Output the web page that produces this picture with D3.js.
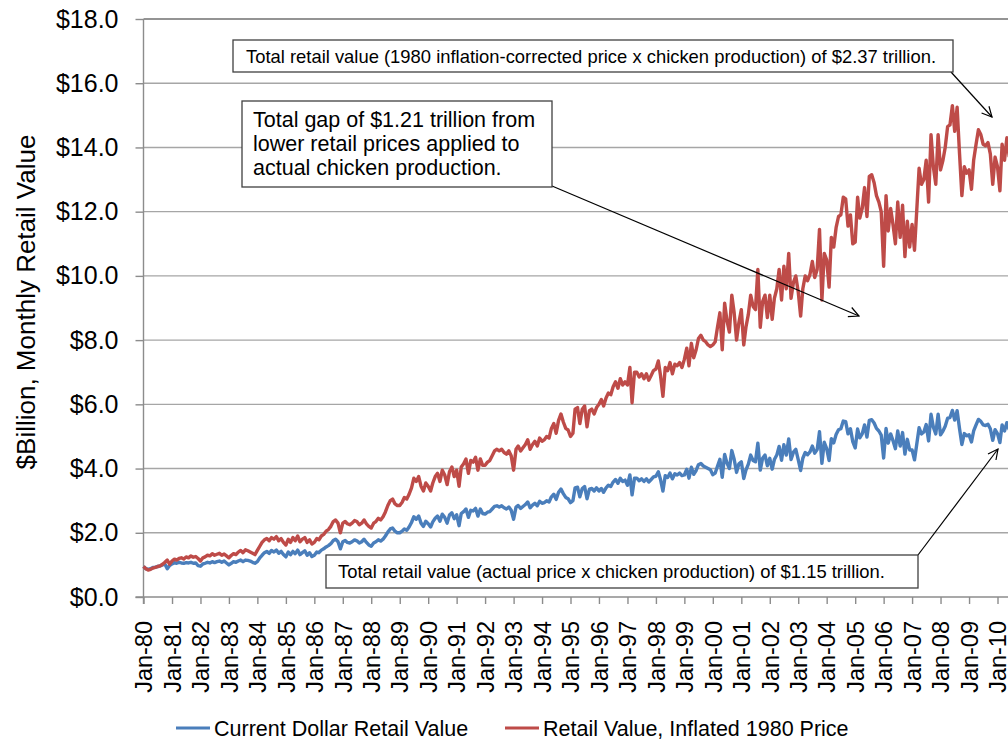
<!DOCTYPE html>
<html>
<head>
<meta charset="utf-8">
<script src="https://cdn.jsdelivr.net/npm/d3@7"></script>
<style>
  body { margin: 0; background: #fff; }
  svg { display: block; font-family: "Liberation Sans", Arial, sans-serif; }
  .grid line { stroke: #a6a6a6; stroke-width: 1.4; }
  .axis path, .axis line { stroke: #8c8c8c; stroke-width: 1.4; }
  .axis text { fill: #000; }
  .note rect { fill: #fff; stroke: #404040; stroke-width: 1.3; }
  .note text { fill: #000; }
</style>
</head>
<body>
<div id="chart"></div>
<script>
// monthly values, $ billion, Jan-1980 .. Jun-2010 (one row per year)
var startYear = 1980;

var currentDollar = [
  0.95, 0.88, 0.86, 0.88, 0.92, 0.93, 0.95, 0.97, 1.00, 1.03, 0.88, 0.98,
  1.03, 1.07, 1.05, 1.08, 1.06, 1.05, 1.07, 1.06, 1.08, 1.05, 1.06, 0.98,
  0.96, 1.03, 1.05, 1.08, 1.06, 1.10, 1.07, 1.10, 1.12, 1.08, 1.12, 1.06,
  1.00, 1.05, 1.10, 1.08, 1.12, 1.15, 1.10, 1.15, 1.14, 1.12, 1.08, 1.05,
  1.10, 1.22, 1.30, 1.38, 1.42, 1.36, 1.45, 1.40, 1.46, 1.36, 1.42, 1.32,
  1.25, 1.40, 1.32, 1.42, 1.35, 1.46, 1.32, 1.38, 1.44, 1.30, 1.38, 1.26,
  1.30, 1.40, 1.38, 1.46, 1.50, 1.56, 1.60, 1.66, 1.76, 1.80, 1.72, 1.50,
  1.72, 1.76, 1.70, 1.68, 1.72, 1.78, 1.75, 1.68, 1.72, 1.80, 1.70, 1.62,
  1.58, 1.68, 1.72, 1.78, 1.74, 1.80, 1.90, 2.02, 2.12, 2.15, 2.05, 2.00,
  2.00, 2.05, 2.12, 2.08, 2.18, 2.32, 2.50, 2.42, 2.52, 2.30, 2.20, 2.36,
  2.28, 2.18, 2.34, 2.45, 2.52, 2.36, 2.58, 2.48, 2.30, 2.55, 2.62, 2.44,
  2.56, 2.22, 2.60, 2.66, 2.74, 2.48, 2.70, 2.68, 2.76, 2.52, 2.74, 2.60,
  2.58, 2.64, 2.66, 2.74, 2.82, 2.84, 2.80, 2.84, 2.78, 2.74, 2.80, 2.70,
  2.42, 2.80, 2.85, 2.76, 2.82, 2.88, 2.96, 2.78, 2.86, 2.92, 2.84, 2.98,
  2.92, 2.94, 3.00, 2.96, 3.12, 3.20, 3.04, 3.26, 3.36, 3.22, 3.10, 3.06,
  2.94, 3.00, 3.40, 3.42, 3.12, 3.38, 3.44, 3.06, 3.36, 3.38, 3.30, 3.40,
  3.30, 3.38, 3.26, 3.40, 3.48, 3.44, 3.58, 3.66, 3.54, 3.70, 3.60, 3.64,
  3.48, 3.80, 3.18, 3.70, 3.70, 3.62, 3.68, 3.60, 3.68, 3.58, 3.66, 3.74,
  3.76, 3.90, 3.66, 3.30, 3.78, 3.72, 3.86, 3.68, 3.84, 3.80, 3.86, 3.78,
  3.80, 3.98, 3.70, 4.04, 3.82, 3.94, 4.12, 4.16, 4.08, 4.04, 4.00, 3.96,
  3.81, 3.86, 4.07, 4.29, 3.73, 4.44, 4.17, 4.00, 4.56, 4.29, 3.88, 4.15,
  4.21, 3.69, 3.95, 4.14, 4.42, 4.25, 4.21, 4.79, 3.95, 4.32, 4.42, 4.09,
  4.32, 3.98, 4.28, 4.42, 4.69, 4.26, 4.74, 4.42, 4.92, 4.28, 4.51, 4.60,
  4.28, 3.94, 4.32, 4.50, 4.43, 4.52, 4.70, 4.48, 4.59, 5.15, 4.16, 4.82,
  4.62, 4.25, 4.93, 4.80, 5.06, 5.21, 5.24, 5.48, 5.46, 5.08, 5.24, 4.84,
  4.64, 5.23, 4.96, 5.08, 5.36, 4.98, 5.50, 5.52, 5.42, 5.25, 5.17, 5.04,
  4.33, 5.25, 4.79, 5.08, 4.87, 4.62, 5.17, 4.70, 5.12, 4.45, 4.91, 4.58,
  4.58, 4.27, 4.74, 5.27, 5.08, 5.14, 5.37, 4.86, 5.69, 5.29, 5.08, 5.69,
  5.05, 5.17, 5.32, 5.57, 5.59, 5.81, 5.51, 5.80, 5.24, 4.75, 5.09, 5.02,
  5.05, 4.83, 5.17, 5.36, 5.53, 5.47, 5.36, 5.34, 5.38, 5.24, 4.88, 5.21,
  5.09, 4.81, 5.36, 5.17, 5.43, 5.21
];

var inflated1980 = [
  0.95, 0.88, 0.84, 0.86, 0.90, 0.92, 0.95, 0.97, 1.02, 1.08, 1.15, 1.02,
  1.12, 1.18, 1.15, 1.20, 1.22, 1.18, 1.25, 1.22, 1.28, 1.24, 1.26, 1.20,
  1.12, 1.22, 1.25, 1.30, 1.28, 1.35, 1.30, 1.33, 1.36, 1.30, 1.34, 1.28,
  1.22, 1.30, 1.35, 1.32, 1.40, 1.45, 1.38, 1.47, 1.44, 1.40, 1.36, 1.32,
  1.45, 1.58, 1.70, 1.78, 1.82, 1.75, 1.85, 1.80, 1.88, 1.75, 1.82, 1.70,
  1.62, 1.80, 1.70, 1.85, 1.75, 1.90, 1.72, 1.80, 1.85, 1.70, 1.78, 1.65,
  1.70, 1.82, 1.78, 1.90, 1.95, 2.05, 2.10, 2.20, 2.35, 2.40, 2.30, 2.00,
  2.30, 2.35, 2.28, 2.25, 2.30, 2.38, 2.35, 2.25, 2.30, 2.40, 2.28, 2.20,
  2.15, 2.30, 2.35, 2.45, 2.40, 2.50, 2.65, 2.85, 3.00, 3.05, 2.90, 2.85,
  2.85, 2.95, 3.10, 3.05, 3.20, 3.40, 3.70, 3.60, 3.75, 3.45, 3.30, 3.55,
  3.45, 3.30, 3.55, 3.75, 3.85, 3.60, 3.95, 3.80, 3.50, 3.90, 4.05, 3.75,
  3.95, 3.45, 4.05, 4.15, 4.30, 3.85, 4.25, 4.20, 4.35, 3.95, 4.30, 4.10,
  4.10, 4.20, 4.25, 4.40, 4.55, 4.60, 4.55, 4.60, 4.50, 4.45, 4.55, 4.40,
  3.95, 4.60, 4.70, 4.55, 4.65, 4.75, 4.90, 4.60, 4.75, 4.85, 4.70, 4.95,
  4.85, 4.90, 5.00, 4.95, 5.25, 5.40, 5.10, 5.50, 5.70, 5.45, 5.25, 5.20,
  5.00, 5.10, 5.85, 5.90, 5.40, 5.85, 5.95, 5.30, 5.80, 5.85, 5.70, 5.90,
  6.00, 6.15, 5.95, 6.20, 6.35, 6.30, 6.55, 6.70, 6.50, 6.80, 6.60, 6.70,
  6.60, 7.15, 6.05, 7.00, 7.00, 6.85, 6.95, 6.80, 6.95, 6.75, 6.90, 7.05,
  7.10, 7.35, 6.90, 6.25, 7.15, 7.05, 7.30, 6.95, 7.25, 7.20, 7.30, 7.15,
  7.40, 7.75, 7.20, 7.90, 7.45, 7.70, 8.05, 8.15, 8.00, 7.95, 7.85, 7.80,
  7.85, 7.95, 8.40, 8.85, 7.70, 9.15, 8.60, 8.25, 9.40, 8.85, 8.00, 8.55,
  8.95, 7.85, 8.40, 8.80, 9.40, 9.05, 8.95, 10.20, 8.40, 9.20, 9.40, 8.70,
  9.40, 8.65, 9.30, 9.60, 10.20, 9.25, 10.30, 9.60, 10.70, 9.30, 9.80, 10.00,
  9.50, 8.75, 9.60, 10.00, 9.85, 10.05, 10.45, 9.95, 10.20, 11.45, 9.25, 10.70,
  10.50, 9.65, 11.20, 10.90, 11.50, 11.85, 11.90, 12.45, 12.40, 11.55, 11.90, 11.00,
  11.05, 12.45, 11.80, 12.10, 12.75, 11.85, 13.10, 13.15, 12.90, 12.50, 12.30, 12.00,
  10.30, 12.50, 11.40, 12.10, 11.60, 11.00, 12.30, 11.20, 12.20, 10.60, 11.70, 10.90,
  11.60, 10.80, 12.00, 13.35, 12.85, 13.00, 13.60, 12.30, 14.40, 13.40, 12.85, 14.40,
  13.30, 13.60, 14.00, 14.65, 14.70, 15.30, 14.50, 15.25, 13.80, 12.50, 13.40, 13.20,
  13.30, 12.70, 13.60, 14.10, 14.55, 14.40, 14.10, 14.05, 14.15, 13.80, 12.85, 13.70,
  13.40, 12.65, 14.10, 13.60, 14.30, 13.70
];

var yTicks = [0, 2, 4, 6, 8, 10, 12, 14, 16, 18];
var xTickYears = d3.range(1980, 2011);

var seriesNames = ["Current Dollar Retail Value", "Retail Value, Inflated 1980 Price"];
var seriesColors = ["#4a7ebb", "#be4b48"];

var noteTop = "Total retail value (1980 inflation-corrected price x chicken production) of $2.37 trillion.";
var noteGap = ["Total gap of $1.21 trillion from", "lower retail prices applied to", "actual chicken production."];
var noteBottom = "Total retail value (actual price x chicken production) of $1.15 trillion.";

var width = 1008, height = 740;

var svg = d3.select("#chart").append("svg")
    .attr("width", width)
    .attr("height", height);

var x = d3.scaleTime()
    .domain([new Date(1980, 0, 1), new Date(2010, 0, 1)])
    .range([143.5, 997.5]);

var y = d3.scaleLinear()
    .domain([0, 18])
    .range([597, 19]);

var monthDate = i => new Date(startYear, i, 1);

// gridlines
svg.append("g")
    .attr("class", "grid")
  .selectAll("line")
  .data(yTicks.filter(d => d > 0))
  .enter().append("line")
    .attr("x1", x.range()[0])
    .attr("x2", width)
    .attr("y1", d => y(d))
    .attr("y2", d => y(d))
    .style("stroke", d => d === 18 ? "#2b2b2b" : null)
    .style("stroke-width", d => d === 18 ? 1.1 : null);

// y axis
var yAxis = svg.append("g")
    .attr("class", "axis")
    .attr("transform", "translate(" + x.range()[0] + ",0)")
    .call(d3.axisLeft(y).tickValues(yTicks).tickSize(8).tickPadding(17)
      .tickFormat(d => "$" + d.toFixed(1)));
yAxis.select(".domain").attr("d", "M0," + y(18) + "V" + (y(0) + 7));
yAxis.selectAll("text").style("font-size", "25px");

// x axis
var xAxis = svg.append("g")
    .attr("class", "axis")
    .attr("transform", "translate(0," + y(0) + ")")
    .call(d3.axisBottom(x)
      .tickValues(xTickYears.map(yr => new Date(yr, 0, 1)))
      .tickSize(7)
      .tickFormat(d3.timeFormat("Jan-%y")));
xAxis.select(".domain").attr("d", "M" + (x.range()[0] - 8) + ",0H" + width);
xAxis.selectAll("text")
    .style("font-size", "23.5px")
    .attr("text-anchor", "end")
    .attr("transform", "rotate(-90)")
    .attr("x", -24)
    .attr("y", 0)
    .attr("dy", "0.35em");

// y title
svg.append("text")
    .attr("transform", "translate(35,302) rotate(-90)")
    .attr("text-anchor", "middle")
    .style("font-size", "26px")
    .text("$Billion, Monthly Retail Value");

// lines
var line = d3.line()
    .x((d, i) => x(monthDate(i)))
    .y(d => y(d));

[currentDollar, inflated1980].forEach((vals, k) => {
  svg.append("path")
      .datum(vals)
      .attr("fill", "none")
      .attr("stroke", seriesColors[k])
      .attr("stroke-width", 3.4)
      .attr("stroke-linejoin", "round")
      .attr("d", line);
});

// annotations
var defs = svg.append("defs");
defs.append("marker")
    .attr("id", "arrow")
    .attr("viewBox", "0 0 12 12")
    .attr("refX", 11).attr("refY", 6)
    .attr("markerWidth", 12).attr("markerHeight", 12)
    .attr("markerUnits", "userSpaceOnUse")
    .attr("orient", "auto")
  .append("path")
    .attr("d", "M1,1 L11,6 L1,11")
    .attr("fill", "none")
    .attr("stroke", "#000")
    .attr("stroke-width", 1.2);

function arrow(x1, y1, x2, y2) {
  svg.append("line")
      .attr("x1", x1).attr("y1", y1)
      .attr("x2", x2).attr("y2", y2)
      .attr("stroke", "#000")
      .attr("stroke-width", 1.2)
      .attr("marker-end", "url(#arrow)");
}

arrow(951, 72, 992, 117);
arrow(552, 186, 859, 316);
arrow(918, 555, 998, 449);

function note(bx, by, bw, bh, lines, size, tx, ty, lh) {
  var g = svg.append("g").attr("class", "note");
  g.append("rect").attr("x", bx).attr("y", by).attr("width", bw).attr("height", bh);
  g.selectAll("text").data(lines).enter().append("text")
      .attr("x", tx)
      .attr("y", (d, i) => ty + i * lh)
      .style("font-size", size + "px")
      .text(d => d);
}

note(233, 40, 720, 32, [noteTop], 18.4, 246, 62.5, 0);
note(242, 101, 310, 86, noteGap, 21.5, 253, 126.5, 24.2);
note(326, 555, 592, 33, [noteBottom], 18.4, 338, 578, 0);

// legend
var legend = svg.append("g");
var legendX = [176, 505];
seriesNames.forEach((name, k) => {
  legend.append("line")
      .attr("x1", legendX[k]).attr("x2", legendX[k] + 34)
      .attr("y1", 728).attr("y2", 728)
      .attr("stroke", seriesColors[k])
      .attr("stroke-width", 3.2);
  legend.append("text")
      .attr("x", legendX[k] + 38)
      .attr("y", 736)
      .style("font-size", "21.5px")
      .text(name);
});
</script>
</body>
</html>
